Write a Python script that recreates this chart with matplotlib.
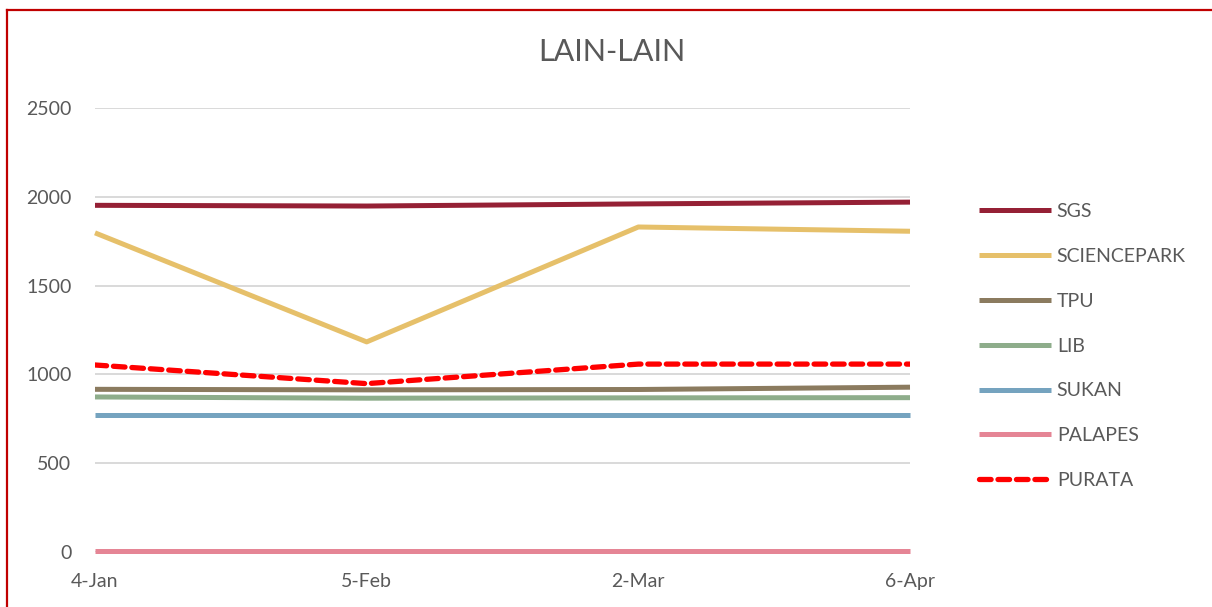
import numpy as np
import matplotlib
matplotlib.use("Agg")
from matplotlib import pyplot as plt
from matplotlib.lines import Line2D

plt.rcParams['font.family'] = ['Lato', 'DejaVu Sans']

dates = ['4-Jan', '5-Feb', '2-Mar', '6-Apr']
sgs = [1952, 1948, 1960, 1970]
sciencepark = [1797, 1183, 1830, 1806]
tpu = [916, 913, 915, 928]
lib = [873, 866, 868, 869]
sukan = [770, 770, 770, 770]
palapes = [5, 5, 5, 5]
purata = [1053, 948, 1058, 1058]

series = [
    ('SGS', sgs, '#952035', '-'),
    ('SCIENCEPARK', sciencepark, '#E6C06A', '-'),
    ('TPU', tpu, '#8B7B5F', '-'),
    ('LIB', lib, '#8EAD8B', '-'),
    ('SUKAN', sukan, '#75A3BF', '-'),
    ('PALAPES', palapes, '#E58595', '-'),
    ('PURATA', purata, '#FF0000', '--'),
]

W, H = 1212, 607
fig = plt.figure(figsize=(W / 100, H / 100), dpi=100)
ax = fig.add_axes([95 / W, 1 - 552 / H, (910 - 95) / W, (552 - 108) / H])

x = np.arange(len(dates))
for name, vals, col, ls in series:
    if ls == '--':
        ax.plot(x, vals, color=col, lw=3.8, ls=(0, (2.2, 1.3)), label=name,
                solid_capstyle='round', dash_capstyle='round', zorder=3)
    else:
        ax.plot(x, vals, color=col, lw=3.6, label=name,
                solid_capstyle='butt', zorder=3, clip_on=False)

ax.set_xlim(0, 3)
ax.set_ylim(0, 2500)
ax.set_yticks([0, 500, 1000, 1500, 2000, 2500])
ax.set_xticks(x)
ax.set_xticklabels(dates)
ax.grid(axis='y', color='#d9d9d9', lw=1.4)
ax.set_axisbelow(True)
for s in ax.spines.values():
    s.set_visible(False)
ax.tick_params(length=0, labelsize=14, labelcolor='#595959')
ax.tick_params(axis='y', pad=17)
ax.tick_params(axis='x', pad=15)

fig.text(612 / W, 1 - 52 / H, 'LAIN-LAIN', ha='center', va='center',
         fontsize=22, color='#595959')

leg = fig.legend(loc='center left', bbox_to_anchor=(979 / W, 1 - 346 / H),
                 frameon=False, fontsize=14, handlelength=3.7,
                 handletextpad=0.3, labelspacing=1.43, borderpad=0,
                 borderaxespad=0)
for t in leg.get_texts():
    t.set_color('#595959')

# red frame of the chart (only top and left visible)
fig.add_artist(Line2D([7 / W, 7 / W], [0, 1 - 10 / H], color='#C00000', lw=1.6))
fig.add_artist(Line2D([7 / W, 1], [1 - 10 / H, 1 - 10 / H], color='#C00000', lw=1.6))

fig.savefig('out.png', dpi=100)
